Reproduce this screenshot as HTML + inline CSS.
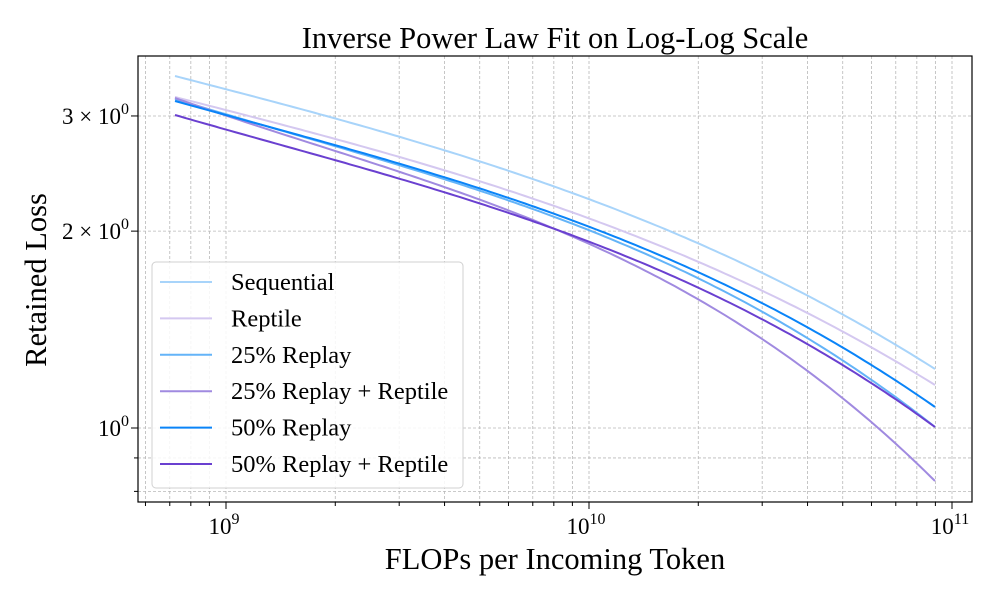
<!DOCTYPE html>
<html><head><meta charset="utf-8"><style>
body{margin:0;background:#fff}
svg text{font-family:"Liberation Serif",serif;fill:#000}
</style></head><body>
<svg id="s" width="1000" height="600" xmlns="http://www.w3.org/2000/svg">
<rect width="1000" height="600" fill="#fff"/>
<g id="grid" stroke="#b8b8b8" stroke-width="0.8" stroke-dasharray="3,2"></g>
<g id="ticks" stroke="#000" stroke-width="1"></g>
<g id="curves" fill="none" stroke-width="2"></g>
<rect x="138" y="56" width="834" height="446" fill="none" stroke="#000" stroke-width="1.2"/>
<text x="555" y="48" font-size="30.5" text-anchor="middle">Inverse Power Law Fit on Log-Log Scale</text>
<text x="555" y="569" font-size="30.5" text-anchor="middle">FLOPs per Incoming Token</text>
<text transform="translate(46,280) rotate(-90)" font-size="30.5" text-anchor="middle">Retained Loss</text>
<g font-size="23" text-anchor="middle">
<text x="224" y="534">10<tspan font-size="16" dy="-10">9</tspan></text>
<text x="586" y="534">10<tspan font-size="16" dy="-10">10</tspan></text>
<text x="950" y="534">10<tspan font-size="16" dy="-10">11</tspan></text>
</g>
<g font-size="23" text-anchor="end">
<text x="129" y="124">3 × 10<tspan font-size="16" dy="-10">0</tspan></text>
<text x="129" y="239">2 × 10<tspan font-size="16" dy="-10">0</tspan></text>
<text x="129" y="436">10<tspan font-size="16" dy="-10">0</tspan></text>
</g>
<rect x="152" y="262" width="311" height="226" rx="4" fill="#fff" fill-opacity="0.85" stroke="#d0d0d0"/>
<g id="leg" font-size="24.5"></g>
</svg>
<script>
const NS="http://www.w3.org/2000/svg";
function el(p,t,a){const e=document.createElementNS(NS,t);for(const k in a)e.setAttribute(k,a[k]);p.appendChild(e);return e;}
const X=v=>226+(Math.log10(v)-9)*363, Y=v=>428-Math.log10(v)*654;
const g=document.getElementById('grid'),tk=document.getElementById('ticks');
for(let d=8;d<=10;d++)for(let m=1;m<10;m++){const x=X(m*Math.pow(10,d));if(x<138||x>972)continue;
 el(g,'line',{x1:x,x2:x,y1:56,y2:502});el(tk,'line',{x1:x,x2:x,y1:502,y2:502+(m==1?7:4)});}
{const x=X(1e11);el(g,'line',{x1:x,x2:x,y1:56,y2:502});el(tk,'line',{x1:x,x2:x,y1:502,y2:509});}
[0.8,0.9,1,2,3].forEach(v=>{const y=Y(v);el(g,'line',{x1:138,x2:972,y1:y,y2:y});el(tk,'line',{x1:131+(v<1?3:0),x2:138,y1:y,y2:y});});
const xs=[175,450,750,935];
const S=[["Sequential","#a8d4fa",[76,152,267,369]],["Reptile","#d4c8f0",[97,172,285,385]],
["25% Replay","#64b4f8",[99,181,305,427]],["25% Replay + Reptile","#a08ae0",[98,189,331,481]],
["50% Replay","#0a84f8",[101,179,297,407]],["50% Replay + Reptile","#6a40d0",[115,194,313,427]]];
function lag(x,ys){let s=0;for(let i=0;i<4;i++){let t=ys[i];for(let j=0;j<4;j++)if(j!=i)t*=(x-xs[j])/(xs[i]-xs[j]);s+=t;}return s;}
const c=document.getElementById('curves'),lg=document.getElementById('leg');
S.forEach((s,i)=>{let pts=[];for(let x=175;x<=935;x+=5)pts.push(x+","+lag(x,s[2]).toFixed(1));
 el(c,'polyline',{points:pts.join(' '),stroke:s[1]});
 const y=282+i*36.4;el(lg,'line',{x1:160,x2:212,y1:y,y2:y,stroke:s[1],'stroke-width':2});
 const t=el(lg,'text',{x:231,y:y+8});t.textContent=s[0];});
</script>
</body></html>
